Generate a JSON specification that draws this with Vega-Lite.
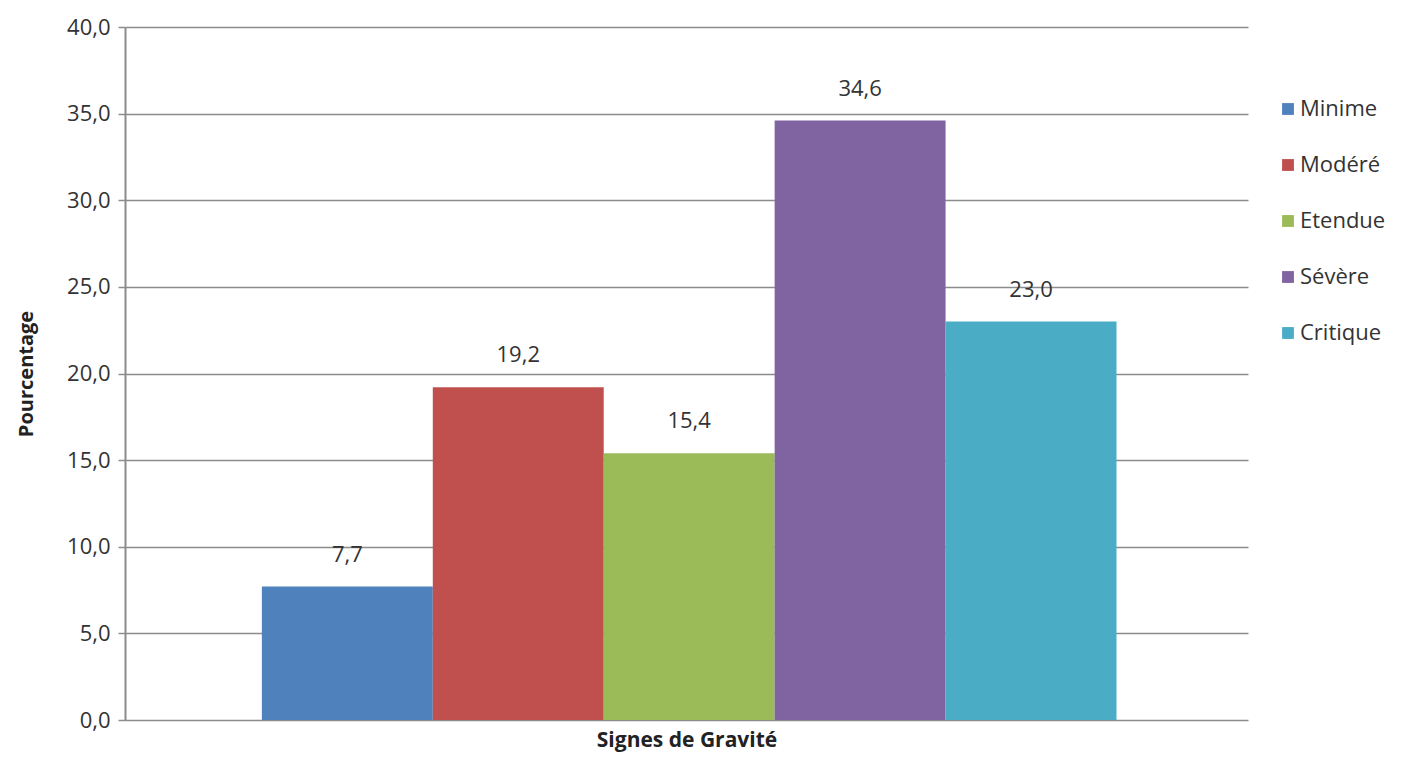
{
  "$schema": "https://vega.github.io/schema/vega-lite/v6.json",
  "width": 1123,
  "height": 693,
  "autosize": {"type": "none"},
  "padding": {"left": 125, "top": 27, "right": 166, "bottom": 40},
  "background": "white",
  "data": {
    "values": [
      {"groupe": "Signes de Gravité", "gravite": "Minime", "pct": 7.7},
      {"groupe": "Signes de Gravité", "gravite": "Modéré", "pct": 19.2},
      {"groupe": "Signes de Gravité", "gravite": "Etendue", "pct": 15.4},
      {"groupe": "Signes de Gravité", "gravite": "Sévère", "pct": 34.6},
      {"groupe": "Signes de Gravité", "gravite": "Critique", "pct": 23.0}
    ]
  },
  "encoding": {
    "x": {
      "field": "groupe", "type": "nominal",
      "scale": {"paddingInner": 0, "paddingOuter": 0.157, "align": 0.51},
      "axis": {
        "labels": false, "ticks": false, "domain": false,
        "title": "Signes de Gravité", "titleFont": "Open Sans", "titleFontSize": 21,
        "titleFontWeight": "bold", "titleColor": "#222", "titlePadding": 9
      }
    },
    "xOffset": {
      "field": "gravite", "type": "nominal",
      "sort": ["Minime", "Modéré", "Etendue", "Sévère", "Critique"],
      "scale": {"paddingInner": 0, "paddingOuter": 0}
    },
    "y": {
      "field": "pct", "type": "quantitative",
      "scale": {"domain": [0, 40], "nice": false},
      "axis": {
        "values": [0, 5, 10, 15, 20, 25, 30, 35, 40],
        "labelExpr": "replace(format(datum.value, '.1f'), '.', ',')",
        "labelFont": "Open Sans", "labelFontSize": 22, "labelColor": "#333",
        "labelPadding": 8,
        "tickColor": "#8c8c8c", "tickSize": 7, "tickWidth": 1.5,
        "domainColor": "#8c8c8c", "domainWidth": 2,
        "gridColor": "#8c8c8c", "gridWidth": 1.5,
        "title": "Pourcentage", "titleFont": "Open Sans", "titleFontSize": 20,
        "titleFontWeight": "bold", "titleColor": "#222", "titlePadding": 30
      }
    }
  },
  "layer": [
    {
      "mark": {"type": "bar"},
      "encoding": {
        "color": {
          "field": "gravite", "type": "nominal",
          "sort": ["Minime", "Modéré", "Etendue", "Sévère", "Critique"],
          "scale": {
            "domain": ["Minime", "Modéré", "Etendue", "Sévère", "Critique"],
            "range": ["#4F81BD", "#C0504D", "#9BBB59", "#8064A2", "#4BACC6"]
          },
          "legend": {
            "title": null, "orient": "none", "legendX": 1152, "legendY": 71,
            "symbolType": "square", "symbolSize": 140, "symbolStrokeWidth": 0,
            "labelFont": "Open Sans", "labelFontSize": 22, "labelColor": "#333",
            "labelOffset": 1, "rowPadding": 34, "padding": 0
          }
        }
      }
    },
    {
      "mark": {"type": "text", "baseline": "bottom", "dy": -20, "font": "Open Sans", "fontSize": 22, "color": "#333"},
      "encoding": {
        "text": {"field": "pct", "type": "quantitative", "format": ".1f"},
        "detail": {"field": "gravite"}
      }
    }
  ],
  "config": {
    "view": {"stroke": null},
    "locale": {"number": {"decimal": ",", "thousands": " ", "grouping": [3], "currency": ["", " €"]}}
  }
}
